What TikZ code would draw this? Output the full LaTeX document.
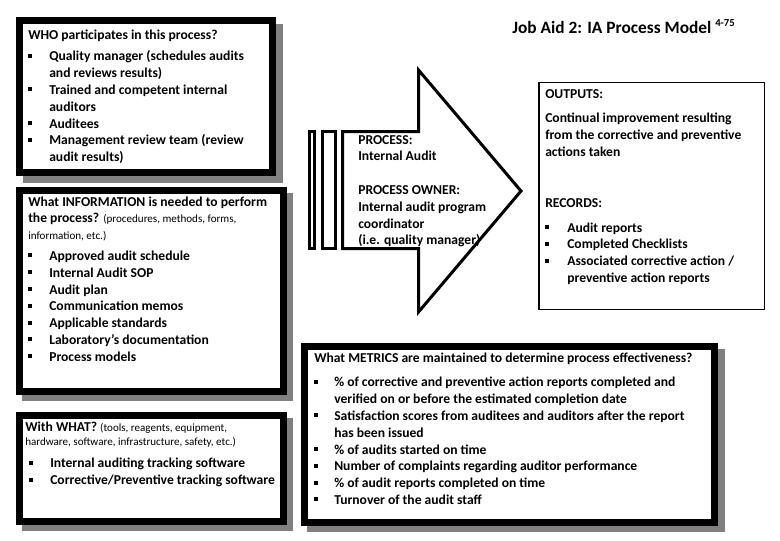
\documentclass[tikz,border=0pt]{standalone}
\usepackage{fontspec}
\setmainfont{Carlito}
\definecolor{shadowgray}{RGB}{128,128,128}
\newcommand\bul{\makebox[15.75pt][l]{\rule[2.2pt]{2.6pt}{3pt}}}
\newcommand\ind{\hspace*{15.75pt}}
\newcommand\obul{\makebox[16.5pt][l]{\rule[2.2pt]{2.6pt}{3pt}}}
\newcommand\oind{\hspace*{16.5pt}}
\newcommand\mbul{\makebox[15pt][l]{\rule[2.2pt]{2.6pt}{3pt}}}
\newcommand\mind{\hspace*{15pt}}
\newcommand\smalltxt[1]{{\fontsize{8.3pt}{9pt}\selectfont\mdseries #1}}
\newcommand\tbox[1]{\parbox[t]{320pt}{\raggedright #1}}
\begin{document}
\begin{tikzpicture}[x=0.75pt,y=-0.75pt,
  frame/.style={draw=black,line width=5.25pt,fill=white,inner sep=0pt},
  thinframe/.style={draw=black,line width=1.1pt,fill=white,inner sep=0pt},
  shade/.style={fill=shadowgray},
  txt/.style={anchor=base west,inner sep=0pt,
    font=\fontsize{10.2pt}{12.6pt}\selectfont\bfseries},
  arrowline/.style={draw=black,line width=2.25pt,line join=miter}]
\useasboundingbox[fill=white] (0,0) rectangle (780,540);
% shadows
\fill[shade] (23,24) rectangle (283,183);
\fill[shade] (22,193) rectangle (293,401);
\fill[shade] (22,418) rectangle (293,531);
\fill[shade] (307,349) rectangle (725,532);
% frames
\node[frame,minimum width=189.75pt,minimum height=114pt] (who) at (146,96.5) {};
\node[frame,minimum width=198pt,minimum height=150.75pt] (info) at (151.5,291) {};
\node[frame,minimum width=198pt,minimum height=79.5pt] (with) at (151.5,468.5) {};
\node[frame,minimum width=307.5pt,minimum height=132pt] (metrics) at (509.5,434.5) {};
\node[thinframe,minimum width=169.1pt,minimum height=169.9pt] (outputs) at (651.5,196) {};
% process arrow
\draw[arrowline] (309.5,131.5) rectangle (314.5,248.5);
\draw[arrowline] (322.5,131.5) rectangle (335.5,248.5);
\draw[arrowline,fill=white] (342.5,131.5) -- (418.5,131.5) -- (418.5,70) -- (521,191)
  -- (418.5,312) -- (418.5,248.5) -- (342.5,248.5) -- cycle;
% title
\node[anchor=base west,inner sep=0pt,font=\fontsize{13pt}{15pt}\selectfont\bfseries] (title)
  at (512,33) {Job Aid 2: IA Process Model \raisebox{5pt}{\fontsize{8pt}{9pt}\selectfont 4-75}};
% texts
\node[txt] (whotxt) at (28,39) {\tbox{WHO participates in this process?\\[3.75pt]
\bul Quality manager (schedules audits\\
\ind and reviews results)\\
\bul Trained and competent internal\\
\ind auditors\\
\bul Auditees\\
\bul Management review team (review\\
\ind audit results)}};
\node[txt] (infotxt) at (28,206) {\tbox{What INFORMATION is needed to perform\\
the process? \smalltxt{(procedures, methods, forms,}\\
\smalltxt{information, etc.)}\\[3pt]
\bul Approved audit schedule\\
\bul Internal Audit SOP\\
\bul Audit plan\\
\bul Communication memos\\
\bul Applicable standards\\
\bul Laboratory’s documentation\\
\bul Process models}};
\node[txt] (withtxt) at (25,431) {\tbox{With WHAT? \smalltxt{(tools, reagents, equipment,}\\[-1.5pt]
\smalltxt{hardware, software, infrastructure, safety, etc.)}\\[4pt]
\hspace*{3pt}\bul Internal auditing tracking software\\
\hspace*{3pt}\bul Corrective/Preventive tracking software}};
\node[txt] (proctxt) at (358,144) {\tbox{PROCESS:\\
Internal Audit\\[12.6pt]
PROCESS OWNER:\\
Internal audit program\\
coordinator\\
(i.e. quality manager)}};
\node[txt] (outtxt) at (545,98) {\tbox{OUTPUTS:\\[6pt]
Continual improvement resulting\\
from the corrective and preventive\\
actions taken\\[25.5pt]
RECORDS:\\[6pt]
\obul Audit reports\\
\obul Completed Checklists\\
\obul Associated corrective action /\\
\oind preventive action reports}};
\node[txt] (mettxt) at (314,362) {\tbox{What METRICS are maintained to determine process effectiveness?\\[6pt]
\mbul \% of corrective and preventive action reports completed and\\
\mind verified on or before the estimated completion date\\
\mbul Satisfaction scores from auditees and auditors after the report\\
\mind has been issued\\
\mbul \% of audits started on time\\
\mbul Number of complaints regarding auditor performance\\
\mbul \% of audit reports completed on time\\
\mbul Turnover of the audit staff}};
\end{tikzpicture}
\end{document}
